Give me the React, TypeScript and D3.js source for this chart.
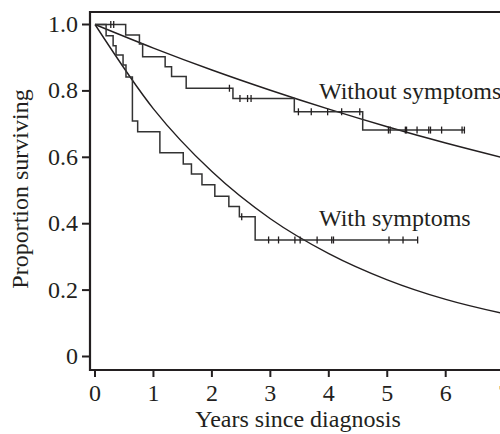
import React from "react";
import * as d3 from "d3";

// ---- Data ----
const xTicks = [0, 1, 2, 3, 4, 5, 6, 7];
const yTicks = [0, 0.2, 0.4, 0.6, 0.8, 1.0];
const yTickLabels = ["0", "0.2", "0.4", "0.6", "0.8", "1.0"];

// Kaplan-Meier: without symptoms
const withoutEventTimes = [0.525, 0.76, 0.815, 1.2, 1.31, 1.56, 2.36, 3.41, 4.58];
const withoutSurv = [0.968, 0.941, 0.903, 0.873, 0.843, 0.808, 0.777, 0.737, 0.682];
const withoutCensor = [0.27, 0.32, 2.3, 2.48, 2.61, 2.67, 3.48, 3.7, 3.98, 4.22, 4.53, 5.02, 5.05, 5.31, 5.33, 5.51, 5.71, 5.74, 5.93, 6.28, 6.32];
const withoutEnd = 6.32;

// Kaplan-Meier: with symptoms
const withEventTimes = [0.19, 0.31, 0.36, 0.48, 0.53, 0.64, 0.73, 1.11, 1.51, 1.65, 1.83, 2.05, 2.29, 2.47, 2.74];
const withSurv = [0.966, 0.936, 0.908, 0.878, 0.842, 0.709, 0.677, 0.614, 0.58, 0.55, 0.517, 0.483, 0.452, 0.421, 0.351];
const withCensor = [2.51, 2.97, 3.14, 3.42, 3.51, 3.8, 4.05, 4.08, 5.03, 5.27, 5.52];
const withEnd = 5.52;

// Fitted (smooth) survival curves, read at each year
const fitYears = [0, 1, 2, 3, 4, 5, 6, 7, 8];
const fitWithout = [1, 0.929, 0.863, 0.802, 0.745, 0.692, 0.643, 0.598, 0.556];
const fitWith = [1, 0.746, 0.557, 0.415, 0.31, 0.231, 0.172, 0.129, 0.096];

const labels = { without: "Without symptoms", with: "With symptoms" };

const W = 500;
const H = 434;
const FONT = "'Liberation Serif', 'Times New Roman', serif";
const INK = "#231f20";
const FS = 24;

const x = d3.scaleLinear().domain([0, 7]).range([95, 95 + 7 * 58.45]);
const y = d3.scaleLinear().domain([0, 1]).range([356.5, 24.5]);

function survAt(times: number[], surv: number[], t: number) {
  let s = 1;
  for (let i = 0; i < times.length; i++) if (times[i] <= t) s = surv[i];
  return s;
}

function kmPoints(times: number[], surv: number[], end: number): [number, number][] {
  const pts: [number, number][] = [[0, 1]];
  times.forEach((t, i) => pts.push([t, surv[i]]));
  pts.push([end, surv[surv.length - 1]]);
  return pts;
}

const stepLine = d3
  .line<[number, number]>()
  .x((d) => x(d[0]))
  .y((d) => y(d[1]))
  .curve(d3.curveStepAfter);

const smoothLine = d3
  .line<[number, number]>()
  .x((d) => x(d[0]))
  .y((d) => y(d[1]))
  .curve(d3.curveMonotoneX);

export default function App() {
  const frameLeft = 90;
  const frameTop = 12;
  const frameBottom = 370;
  const frameRight = 560;

  const kmWithout = kmPoints(withoutEventTimes, withoutSurv, withoutEnd);
  const kmWith = kmPoints(withEventTimes, withSurv, withEnd);
  const fitW = fitYears.map((t, i) => [t, fitWithout[i]] as [number, number]);
  const fitS = fitYears.map((t, i) => [t, fitWith[i]] as [number, number]);

  const censorMarks = (times: number[], ev: number[], sv: number[], key: string) =>
    times.map((t, i) => {
      const cx = x(t);
      const cy = y(survAt(ev, sv, t));
      return <line key={key + i} x1={cx} x2={cx} y1={cy - 3.5} y2={cy + 3.5} stroke={INK} strokeWidth={1.3} />;
    });

  return (
    <div style={{ position: "absolute", left: 0, top: 0, width: W, height: H, overflow: "hidden", background: "#fff" }}>
      <svg width={W} height={H} viewBox={`0 0 ${W} ${H}`} style={{ display: "block" }}>
        <rect x={0} y={0} width={W} height={H} fill="#fff" />
        {/* frame */}
        <path
          d={`M${frameRight},${frameTop}H${frameLeft}V${frameBottom}H${frameRight}`}
          fill="none"
          stroke={INK}
          strokeWidth={2.2}
        />
        {/* y ticks */}
        {yTicks.map((v, i) => (
          <g key={"yt" + i}>
            <line x1={frameLeft - 8} x2={frameLeft} y1={y(v)} y2={y(v)} stroke={INK} strokeWidth={2} />
            <text x={frameLeft - 12} y={y(v) + 7.5} textAnchor="end" fontFamily={FONT} fontSize={FS} fill={INK}>
              {yTickLabels[i]}
            </text>
          </g>
        ))}
        {/* x ticks */}
        {xTicks.map((v) => (
          <g key={"xt" + v}>
            <line x1={x(v)} x2={x(v)} y1={frameBottom} y2={frameBottom + 7} stroke={INK} strokeWidth={2} />
            <text x={x(v)} y={401} textAnchor="middle" fontFamily={FONT} fontSize={FS} fill={INK}>
              {v}
            </text>
          </g>
        ))}
        {/* axis titles */}
        <text x={298} y={427} textAnchor="middle" fontFamily={FONT} fontSize={FS} fill={INK}>
          Years since diagnosis
        </text>
        <text
          transform={`translate(28,189) rotate(-90)`}
          textAnchor="middle"
          fontFamily={FONT}
          fontSize={FS}
          fill={INK}
        >
          Proportion surviving
        </text>

        {/* fitted curves */}
        <path d={smoothLine(fitW) || ""} fill="none" stroke={INK} strokeWidth={1.4} />
        <path d={smoothLine(fitS) || ""} fill="none" stroke={INK} strokeWidth={1.4} />

        {/* KM curves */}
        <path d={stepLine(kmWithout) || ""} fill="none" stroke="#333" strokeWidth={1.5} />
        <path d={stepLine(kmWith) || ""} fill="none" stroke="#333" strokeWidth={1.5} />
        {censorMarks(withoutCensor, withoutEventTimes, withoutSurv, "cw")}
        {censorMarks(withCensor, withEventTimes, withSurv, "cs")}

        {/* labels */}
        <text x={319} y={99} fontFamily={FONT} fontSize={FS} fill={INK}>
          {labels.without}
        </text>
        <text x={319} y={226} fontFamily={FONT} fontSize={FS} fill={INK}>
          {labels.with}
        </text>
      </svg>
    </div>
  );
}
